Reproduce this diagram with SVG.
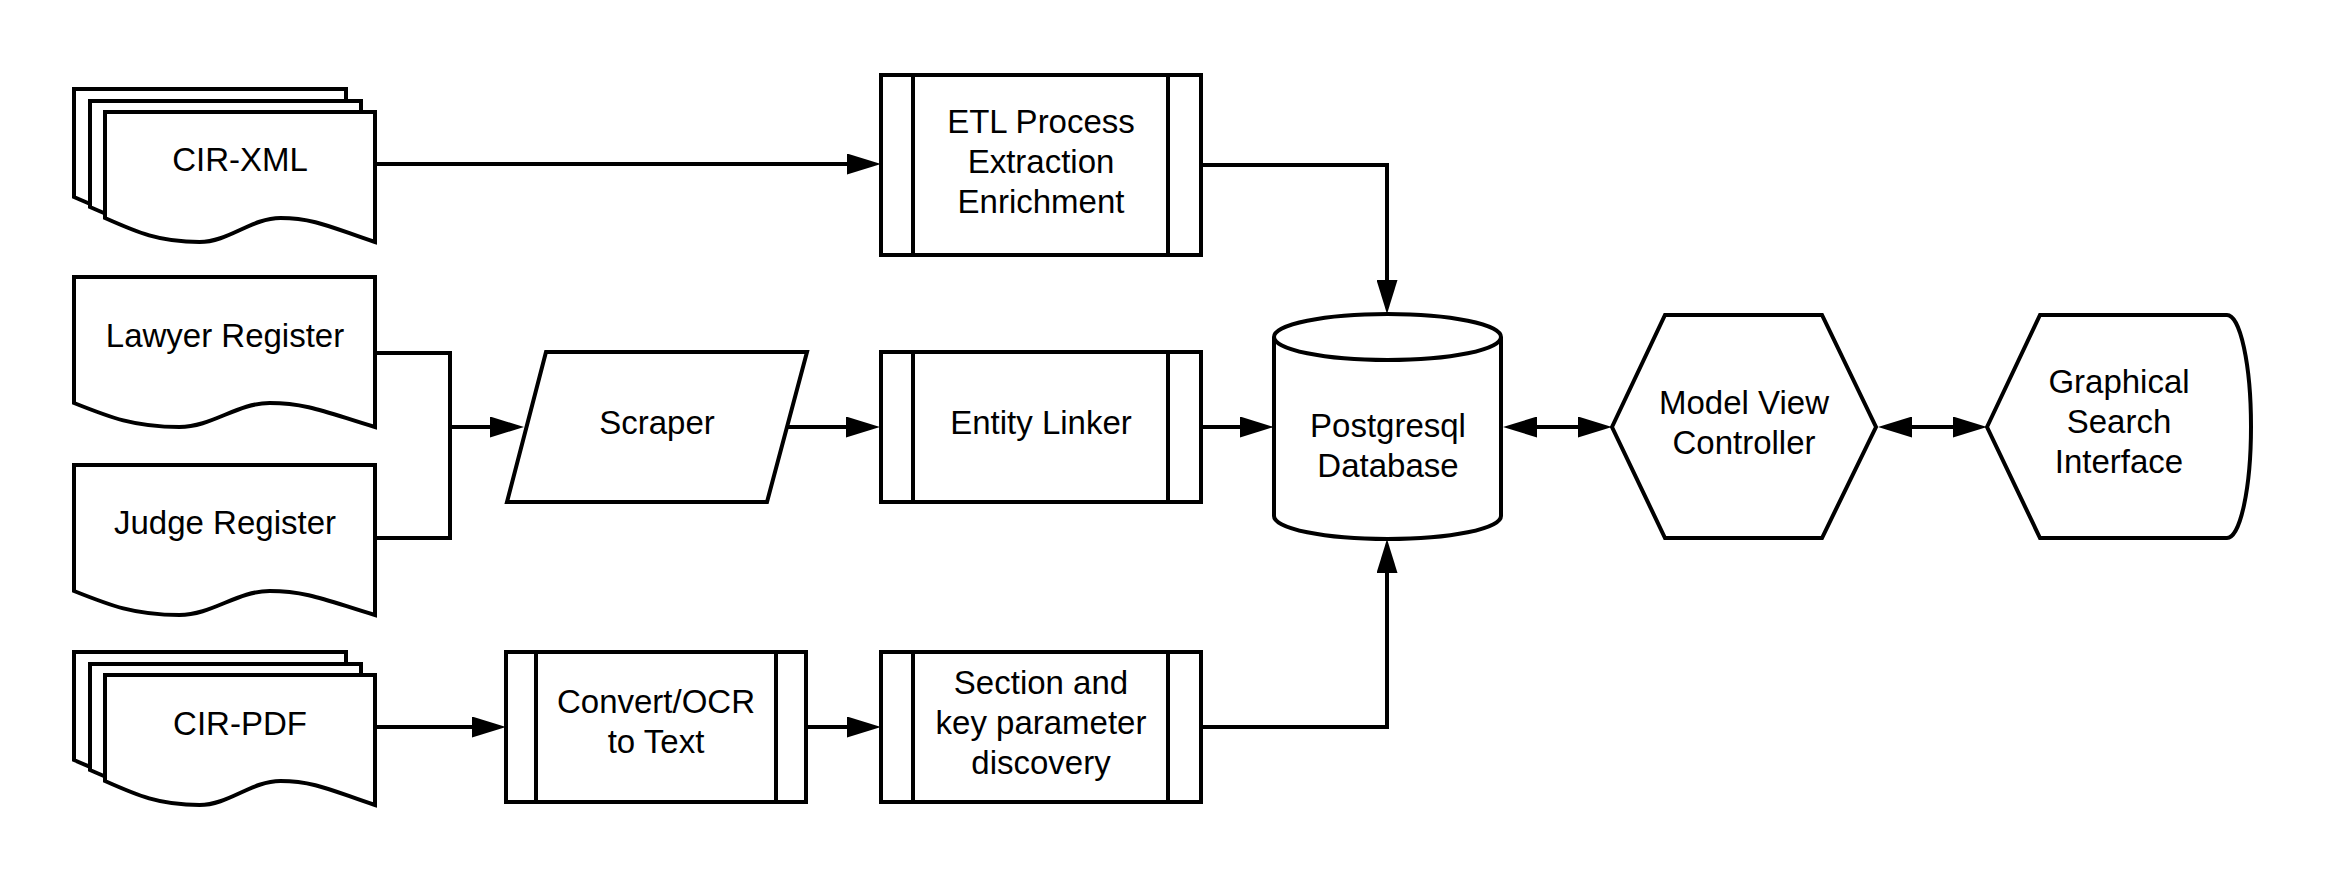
<svg xmlns="http://www.w3.org/2000/svg" width="2325" height="878" viewBox="0 0 2325 878">
<style>
.s{fill:#fff;stroke:#000;stroke-width:4;stroke-linejoin:miter}
.l{fill:none;stroke:#000;stroke-width:4}
.c{fill:none;stroke:#000;stroke-width:4}
text{font-family:"Liberation Sans",Arial,sans-serif;font-size:33px;fill:#000;text-anchor:middle}
</style>
<defs>
<marker id="ah" markerUnits="userSpaceOnUse" markerWidth="34" markerHeight="21" refX="26" refY="10.5" orient="auto-start-reverse" viewBox="0 0 34 21">
<path d="M0,0 L34,10.5 L0,21 Z" fill="#000"/>
</marker>
</defs>
<rect width="2325" height="878" fill="#fff"/>
<g id="connectors">
<path class="c" d="M375,164 H873" marker-end="url(#ah)"/>
<path class="c" d="M1201,165 H1387 V306" marker-end="url(#ah)"/>
<path class="c" d="M375,353 H450 V538 H375"/>
<path class="c" d="M450,427 H516" marker-end="url(#ah)"/>
<path class="c" d="M788,427 H872" marker-end="url(#ah)"/>
<path class="c" d="M1201,427 H1266" marker-end="url(#ah)"/>
<path class="c" d="M1511,427 H1604" marker-start="url(#ah)" marker-end="url(#ah)"/>
<path class="c" d="M1886,427 H1979" marker-start="url(#ah)" marker-end="url(#ah)"/>
<path class="c" d="M375,727 H498" marker-end="url(#ah)"/>
<path class="c" d="M806,727 H873" marker-end="url(#ah)"/>
<path class="c" d="M1201,727 H1387 V547" marker-end="url(#ah)"/>
</g>
<g id="cir-xml">
<path class="s" d="M74,89 H346 V221 C305.2,207.8 286.2,197 250.8,197 C221.4,197 198.6,221 169.2,221 C128.4,221 106.6,211.4 74,197 Z"/>
<path class="s" d="M90,101 H361 V231 C320.4,217.8 301.4,207 266.2,207 C236.9,207 214.1,231 184.9,231 C144.2,231 122.5,221.4 90,207 Z"/>
<path class="s" d="M105,112 H375 V242 C334.5,228.8 315.6,218 280.5,218 C251.3,218 228.7,242 199.5,242 C159,242 137.4,232.4 105,218 Z"/>
<text x="240" y="171">CIR-XML</text>
</g>
<g id="lawyer-register">
<path class="s" d="M74,277 H375 V427 C329.9,413.8 308.8,403 269.7,403 C237.1,403 211.9,427 179.4,427 C134.2,427 110.1,417.4 74,403 Z"/>
<text x="225" y="347">Lawyer Register</text>
</g>
<g id="judge-register">
<path class="s" d="M74,465 H375 V615 C329.9,601.8 308.8,591 269.7,591 C237.1,591 211.9,615 179.4,615 C134.2,615 110.1,605.4 74,591 Z"/>
<text x="225" y="534">Judge Register</text>
</g>
<g id="cir-pdf">
<g transform="translate(0,563)">
<path class="s" d="M74,89 H346 V221 C305.2,207.8 286.2,197 250.8,197 C221.4,197 198.6,221 169.2,221 C128.4,221 106.6,211.4 74,197 Z"/>
<path class="s" d="M90,101 H361 V231 C320.4,217.8 301.4,207 266.2,207 C236.9,207 214.1,231 184.9,231 C144.2,231 122.5,221.4 90,207 Z"/>
<path class="s" d="M105,112 H375 V242 C334.5,228.8 315.6,218 280.5,218 C251.3,218 228.7,242 199.5,242 C159,242 137.4,232.4 105,218 Z"/>
</g>
<text x="240" y="735">CIR-PDF</text>
</g>
<g id="etl">
<rect class="s" x="881" y="75" width="320" height="180"/>
<path class="l" d="M913,75 V255 M1168,75 V255"/>
<text x="1041" y="133">ETL Process</text>
<text x="1041" y="173">Extraction</text>
<text x="1041" y="213">Enrichment</text>
</g>
<g id="scraper">
<path class="s" d="M546,352 H807 L767,502 H507 Z"/>
<text x="657" y="434">Scraper</text>
</g>
<g id="entity-linker">
<rect class="s" x="881" y="352" width="320" height="150"/>
<path class="l" d="M913,352 V502 M1168,352 V502"/>
<text x="1041" y="434">Entity Linker</text>
</g>
<g id="convert-ocr">
<rect class="s" x="506" y="652" width="300" height="150"/>
<path class="l" d="M536,652 V802 M776,652 V802"/>
<text x="656" y="713">Convert/OCR</text>
<text x="656" y="753">to Text</text>
</g>
<g id="section-discovery">
<rect class="s" x="881" y="652" width="320" height="150"/>
<path class="l" d="M913,652 V802 M1168,652 V802"/>
<text x="1041" y="694">Section and</text>
<text x="1041" y="734">key parameter</text>
<text x="1041" y="774">discovery</text>
</g>
<g id="database">
<path class="s" d="M1274,337 A113.5,23 0 0 1 1501,337 V516 A113.5,23 0 0 1 1274,516 Z"/>
<path class="l" d="M1274,337 A113.5,23 0 0 0 1501,337"/>
<text x="1388" y="437">Postgresql</text>
<text x="1388" y="477">Database</text>
</g>
<g id="mvc">
<path class="s" d="M1612,427 L1665,315 H1822 L1876,427 L1822,538 H1665 Z"/>
<text x="1744" y="414">Model View</text>
<text x="1744" y="454">Controller</text>
</g>
<g id="gsi">
<path class="s" d="M1987,427 L2040,315 H2227 A24,111.5 0 0 1 2227,538 H2040 Z"/>
<text x="2119" y="393">Graphical</text>
<text x="2119" y="433">Search</text>
<text x="2119" y="473">Interface</text>
</g>
</svg>
